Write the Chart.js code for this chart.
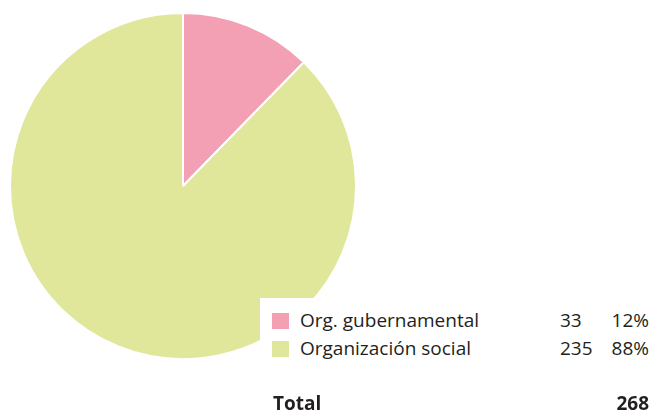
<!DOCTYPE html>
<html>
<head>
<meta charset="utf-8">
<script src="https://cdn.jsdelivr.net/npm/chart.js@4"></script>
<style>
  body { margin: 0; background: #fff; font-family: "Open Sans", sans-serif; color: #231f20; }
  #wrap { position: relative; width: 653px; height: 411px; overflow: hidden; }
  #pie { position: absolute; left: 0; top: 0; }
  #legend { position: absolute; left: 260px; top: 298px; width: 393px; height: 72px; background: #fff; }
  .row { position: absolute; left: 0; width: 393px; height: 20px; font-size: 19px; line-height: 20px; }
  .sw { position: absolute; left: 12px; top: 1px; width: 17px; height: 16px; }
  .lab { position: absolute; left: 40px; top: -2px; white-space: nowrap; }
  .num { position: absolute; left: 300px; top: -2px; }
  .pct { position: absolute; right: 4px; top: -2px; }
  #total { position: absolute; left: 273px; top: 393px; width: 376px; font-size: 19px; font-weight: bold; line-height: 20px; }
  #total span { position: absolute; top: 0; }
</style>
</head>
<body>
<div id="wrap">
  <canvas id="pie" width="653" height="411"></canvas>
  <div id="legend"></div>
  <div id="total"><span style="left:0">Total</span><span id="totalVal" style="right:0"></span></div>
</div>
<script>
document.addEventListener('DOMContentLoaded', function() {
    // Datos del gráfico
    var categorias = ['Org. gubernamental', 'Organización social'];
    var valores = [33, 235];
    var porcentajes = ['12%', '88%'];
    var colores = ['#f4a0b4', '#e0e79b'];
    var total = valores.reduce(function(a, b) { return a + b; }, 0);

    var ctx = document.getElementById('pie').getContext('2d');
    var pieChart = new Chart(ctx, {
        type: 'pie',
        data: {
            labels: categorias,
            datasets: [{
                data: valores,
                backgroundColor: colores,
                borderColor: '#ffffff',
                borderWidth: 2,
                hoverOffset: 0,
                offset: 0
            }]
        },
        options: {
            responsive: false,
            animation: false,
            events: [],
            layout: { padding: { left: 9, top: 12, right: 296, bottom: 51 } },
            plugins: {
                legend: { display: false },
                tooltip: { enabled: false }
            }
        }
    });

    // Leyenda con valores
    var legend = document.getElementById('legend');
    var tops = [14, 42];
    categorias.forEach(function(cat, i) {
        var row = document.createElement('div');
        row.className = 'row';
        row.style.top = tops[i] + 'px';
        row.innerHTML = '<div class="sw" style="background:' + colores[i] + '"></div>' +
            '<div class="lab">' + cat + '</div>' +
            '<div class="num">' + valores[i] + '</div>' +
            '<div class="pct">' + porcentajes[i] + '</div>';
        legend.appendChild(row);
    });
    document.getElementById('totalVal').textContent = total;
});
</script>
</body>
</html>
